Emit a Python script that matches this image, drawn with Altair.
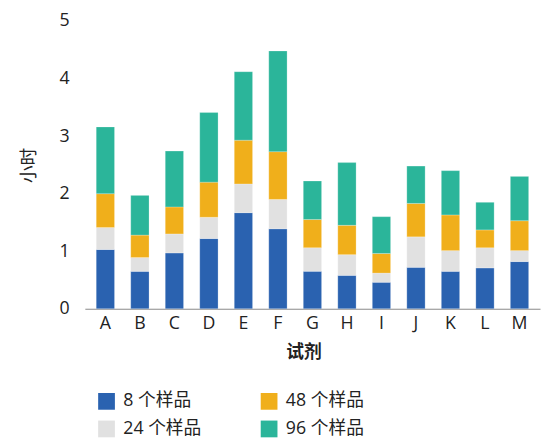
import altair as alt
import pandas as pd

reagents = ["A", "B", "C", "D", "E", "F", "G", "H", "I", "J", "K", "L", "M"]
series = ["8 个样品", "24 个样品", "48 个样品", "96 个样品"]
s8 = [1.03, 0.65, 0.97, 1.22, 1.67, 1.39, 0.65, 0.58, 0.46, 0.72, 0.65, 0.71, 0.82]
s24 = [0.38, 0.24, 0.33, 0.37, 0.50, 0.51, 0.41, 0.36, 0.16, 0.53, 0.36, 0.35, 0.19]
s48 = [0.59, 0.39, 0.47, 0.61, 0.76, 0.83, 0.49, 0.51, 0.34, 0.58, 0.62, 0.31, 0.52]
s96 = [1.16, 0.69, 0.97, 1.21, 1.19, 1.75, 0.67, 1.09, 0.64, 0.65, 0.77, 0.48, 0.77]
colors = ["#2A62B0", "#E1E1E1", "#F0AF1B", "#2BB59A"]

rows = []
for si, (name, vals) in enumerate(zip(series, [s8, s24, s48, s96])):
    for r, v in zip(reagents, vals):
        rows.append({"试剂": r, "系列": name, "小时": v, "顺序": si})
df = pd.DataFrame(rows)

FONT = "Open Sans, Noto Sans CJK SC, sans-serif"

chart = alt.Chart(df).mark_bar(stroke="white", strokeWidth=0.4, strokeOpacity=0.6).encode(
    x=alt.X("试剂:N", sort=reagents,
            scale=alt.Scale(paddingInner=0.47, paddingOuter=0.33),
            axis=alt.Axis(title="试剂", labelAngle=0, ticks=False, domainColor="#888888",
                          labelFontSize=18, labelPadding=6, titleFontSize=18,
                          titleFontWeight="bold", titlePadding=11, titleX=222,
                          labelColor="#222222", titleColor="#222222")),
    y=alt.Y("小时:Q", stack="zero",
            scale=alt.Scale(domain=[0, 5], nice=False),
            axis=alt.Axis(title="小时", values=[0, 1, 2, 3, 4, 5], grid=False, domain=False,
                          ticks=False, labelFontSize=18, labelPadding=16, titleFontSize=18,
                          titleFontWeight="normal", titlePadding=21,
                          labelColor="#222222", titleColor="#222222")),
    color=alt.Color("系列:N", scale=alt.Scale(domain=series, range=colors),
                    legend=alt.Legend(title=None, orient="none", legendX=13, legendY=377,
                                      columns=2, symbolType="square", symbolSize=289,
                                      symbolStrokeWidth=0, labelFontSize=18, labelOffset=8,
                                      rowPadding=10, columnPadding=59, padding=0,
                                      labelColor="#222222", symbolOpacity=1)),
    order=alt.Order("顺序:Q", sort="ascending"),
).properties(
    width=462, height=292,
    autosize=alt.AutoSizeParams(type="none"),
    padding={"left": 78, "top": 10, "right": 2, "bottom": 132},
).configure(font=FONT).configure_view(stroke=None)

chart.save("out.html", embed_options={"renderer": "svg", "actions": False})
